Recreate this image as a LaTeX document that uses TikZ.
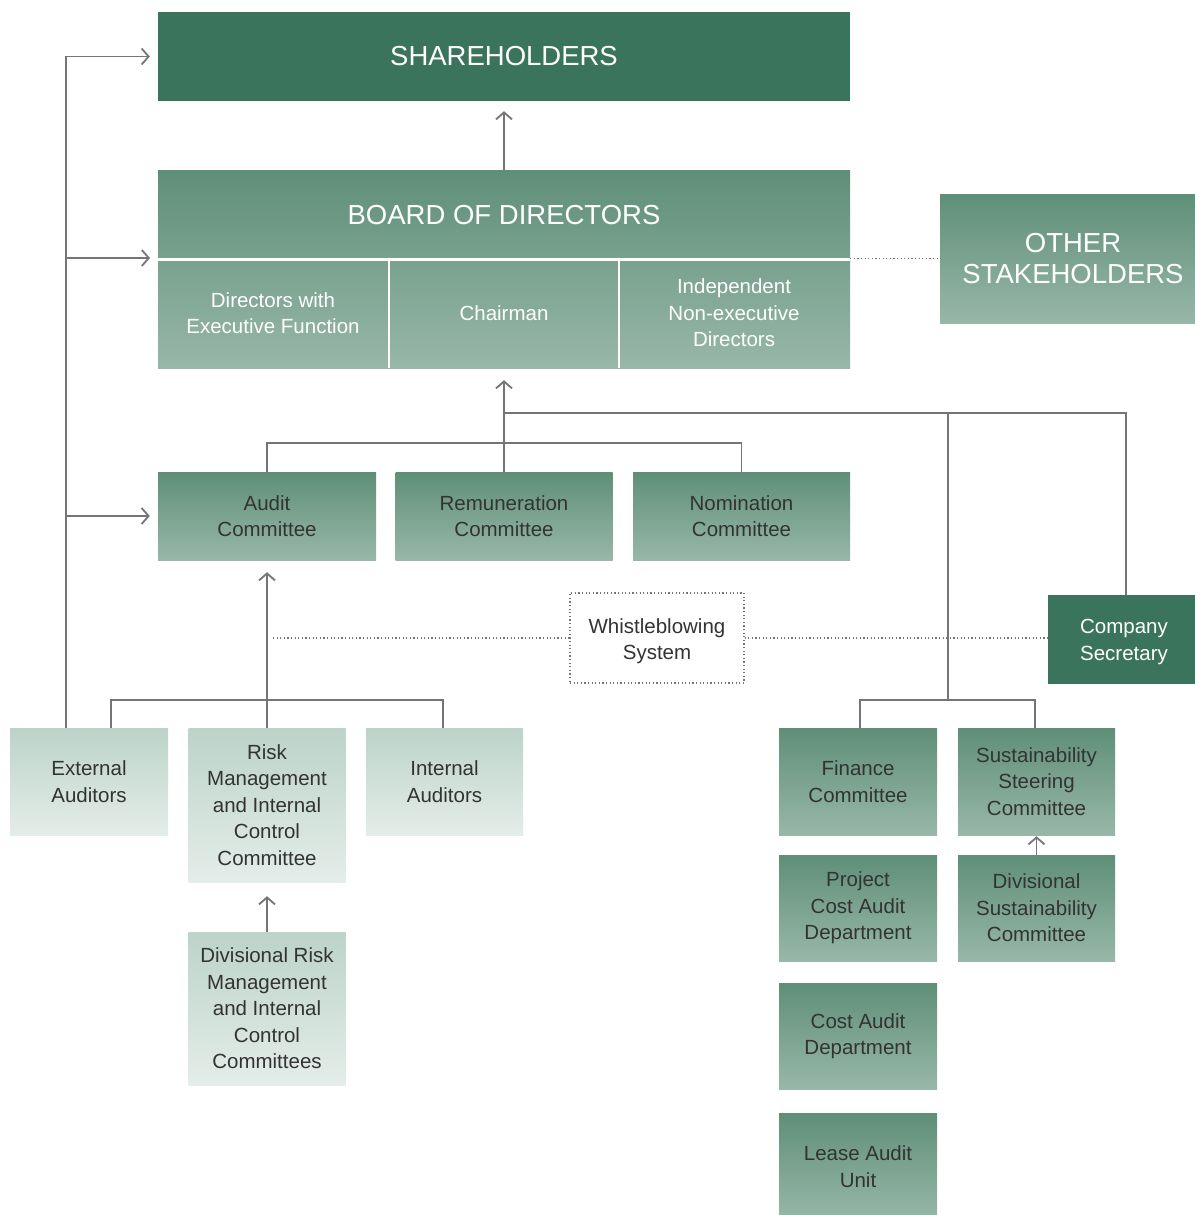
\documentclass[tikz,border=0pt]{standalone}
\usepackage{fontspec}
\setmainfont{Liberation Sans}
\usetikzlibrary{arrows.meta}
\definecolor{dkgreen}{HTML}{3B745C}
\definecolor{medtop}{HTML}{5F8F78}
\definecolor{medbot}{HTML}{98B7A9}
\definecolor{lttop}{HTML}{BCD3C9}
\definecolor{ltbot}{HTML}{E4EDE9}
\definecolor{linegray}{HTML}{747578}
\definecolor{txtdark}{HTML}{333333}
\begin{document}
\begin{tikzpicture}[x=1pt,y=-1pt,
  box/.style={rectangle, inner sep=0pt, align=center, font=\fontsize{20.5}{26.5}\selectfont},
  sz/.style 2 args={minimum width=#1, minimum height=#2},
  dark/.style={box, fill=dkgreen, text=white},
  med/.style={box, top color=medtop, bottom color=medbot, text=txtdark},
  light/.style={box, top color=lttop, bottom color=ltbot, text=txtdark},
  big/.style={font=\fontsize{27.5}{31}\selectfont},
  celltext/.style={box, text=white},
  conn/.style={draw=linegray, line width=1.8pt},
  arr/.style={conn, -{Straight Barb[length=7pt,width=16pt,line width=1.8pt]}},
  dots/.style={draw=linegray, line width=1.2pt, dash pattern=on 1.2pt off 2.4pt},
  wbox/.style={box, draw=linegray, line width=1.2pt, dash pattern=on 1.2pt off 2.4pt, text=txtdark},
]
\useasboundingbox[fill=white] (0,0) rectangle (1194,1215);

% top level
\node[dark, big, sz={692pt}{89pt}] (share) at (504,56.5) {SHAREHOLDERS};
\node[box, top color=medtop, bottom color=medbot, sz={692pt}{198pt}] (board) at (504,269) {};
\node[celltext, big] (boardtitle) at (504,215) {BOARD OF DIRECTORS};
\coordinate (div1) at (389,259.5);
\coordinate (div2) at (619,259.5);
\draw[white, line width=2.5pt] (board.west |- div1) -- (board.east |- div1);
\draw[white, line width=2.5pt] (div1) -- (div1 |- board.south);
\draw[white, line width=2.5pt] (div2) -- (div2 |- board.south);
\node[celltext] (dirs) at (273,313) {Directors with\\Executive Function};
\node[celltext] (chair) at (504,313) {Chairman};
\node[celltext] (indep) at (734,313) {Independent\\Non-executive\\Directors};
\node[med, big, text=white, sz={266pt}{129pt}] (os) at (1073,258.5) {OTHER\\STAKEHOLDERS};

% committees
\node[med, sz={218pt}{88pt}] (audit) at (267,516) {Audit\\Committee};
\node[med, sz={217pt}{88pt}] (remun) at (504,516) {Remuneration\\Committee};
\node[med, sz={217pt}{88pt}] (nom) at (741.5,516) {Nomination\\Committee};

\node[wbox, sz={174pt}{90pt}] (whistle) at (657,638) {};
\node[box, text=txtdark] (whistletext) at (657,641) {Whistleblowing\\System};
\node[dark, sz={156pt}{89pt}] (coysec) at (1126,639.5) {};
\node[box, text=white] (coysectext) at (1124,642) {Company\\Secretary};

% bottom left
\node[light, sz={158pt}{107pt}] (extaud) at (89,781.5) {External\\Auditors};
\node[light, sz={157pt}{154pt}] (risk) at (267,805) {Risk\\Management\\and Internal\\Control\\Committee};
\node[light, sz={157pt}{107pt}] (intaud) at (444.5,781.5) {Internal\\Auditors};
\node[light, sz={157pt}{153pt}] (divrisk) at (267,1008.5) {Divisional Risk\\Management\\and Internal\\Control\\Committees};

% bottom right
\node[med, sz={158pt}{107pt}] (fin) at (858,781.5) {Finance\\Committee};
\node[med, sz={157pt}{107pt}] (sust) at (1036.5,781.5) {Sustainability\\Steering\\Committee};
\node[med, sz={158pt}{106pt}] (projcost) at (858,908) {Project\\Cost Audit\\Department};
\node[med, sz={157pt}{106pt}] (divsust) at (1036.5,908) {Divisional\\Sustainability\\Committee};
\node[med, sz={158pt}{106pt}] (costaudit) at (858,1036) {Cost Audit\\Department};
\node[med, sz={158pt}{107pt}] (lease) at (858,1166.5) {Lease Audit\\Unit};

% connectors
\draw[arr] (board.north) -- ([yshift=-10pt]share.south);

\coordinate (lb) at ([xshift=-23pt]extaud.north);
\coordinate (bw) at (150,258);
\draw[conn] (lb) -- (lb |- share.west);
\draw[arr] (lb |- share.west) -- ([xshift=-8pt]share.west);
\draw[arr] (lb |- bw) -- (bw);
\draw[arr] (lb |- audit.west) -- ([xshift=-8pt]audit.west);

\draw[conn] (audit.north) -- ++(0,-29) -| (nom.north);
\draw[arr] (remun.north) -- ([yshift=-12pt]board.south);
\coordinate (rtop) at (948,413);
\coordinate (rj) at (948,700);
\draw[conn] (remun.north |- rtop) -| (coysec.north);
\draw[conn] (rtop) -- (rj);
\draw[conn] ([xshift=2pt]fin.north) -- ([xshift=2pt]fin.north |- rj) -| ([xshift=-1.5pt]sust.north);
\draw[arr] (divsust.north) -- ([yshift=-1pt]sust.south);

\draw[arr] (risk.north) -- ([yshift=-12pt]audit.south);
\draw[conn] ([xshift=22pt]extaud.north) -- ++(0,-28) -| ([xshift=-1.5pt]intaud.north);
\draw[arr] (divrisk.north) -- ([yshift=-14pt]risk.south);

\draw[dots] ([xshift=6pt]risk.north |- whistle.west) -- (whistle.west);
\draw[dots] (whistle.east) -- (whistle.east -| coysec.west);
\draw[dots] (board.east |- os.west) -- (os.west);
\end{tikzpicture}
\end{document}
